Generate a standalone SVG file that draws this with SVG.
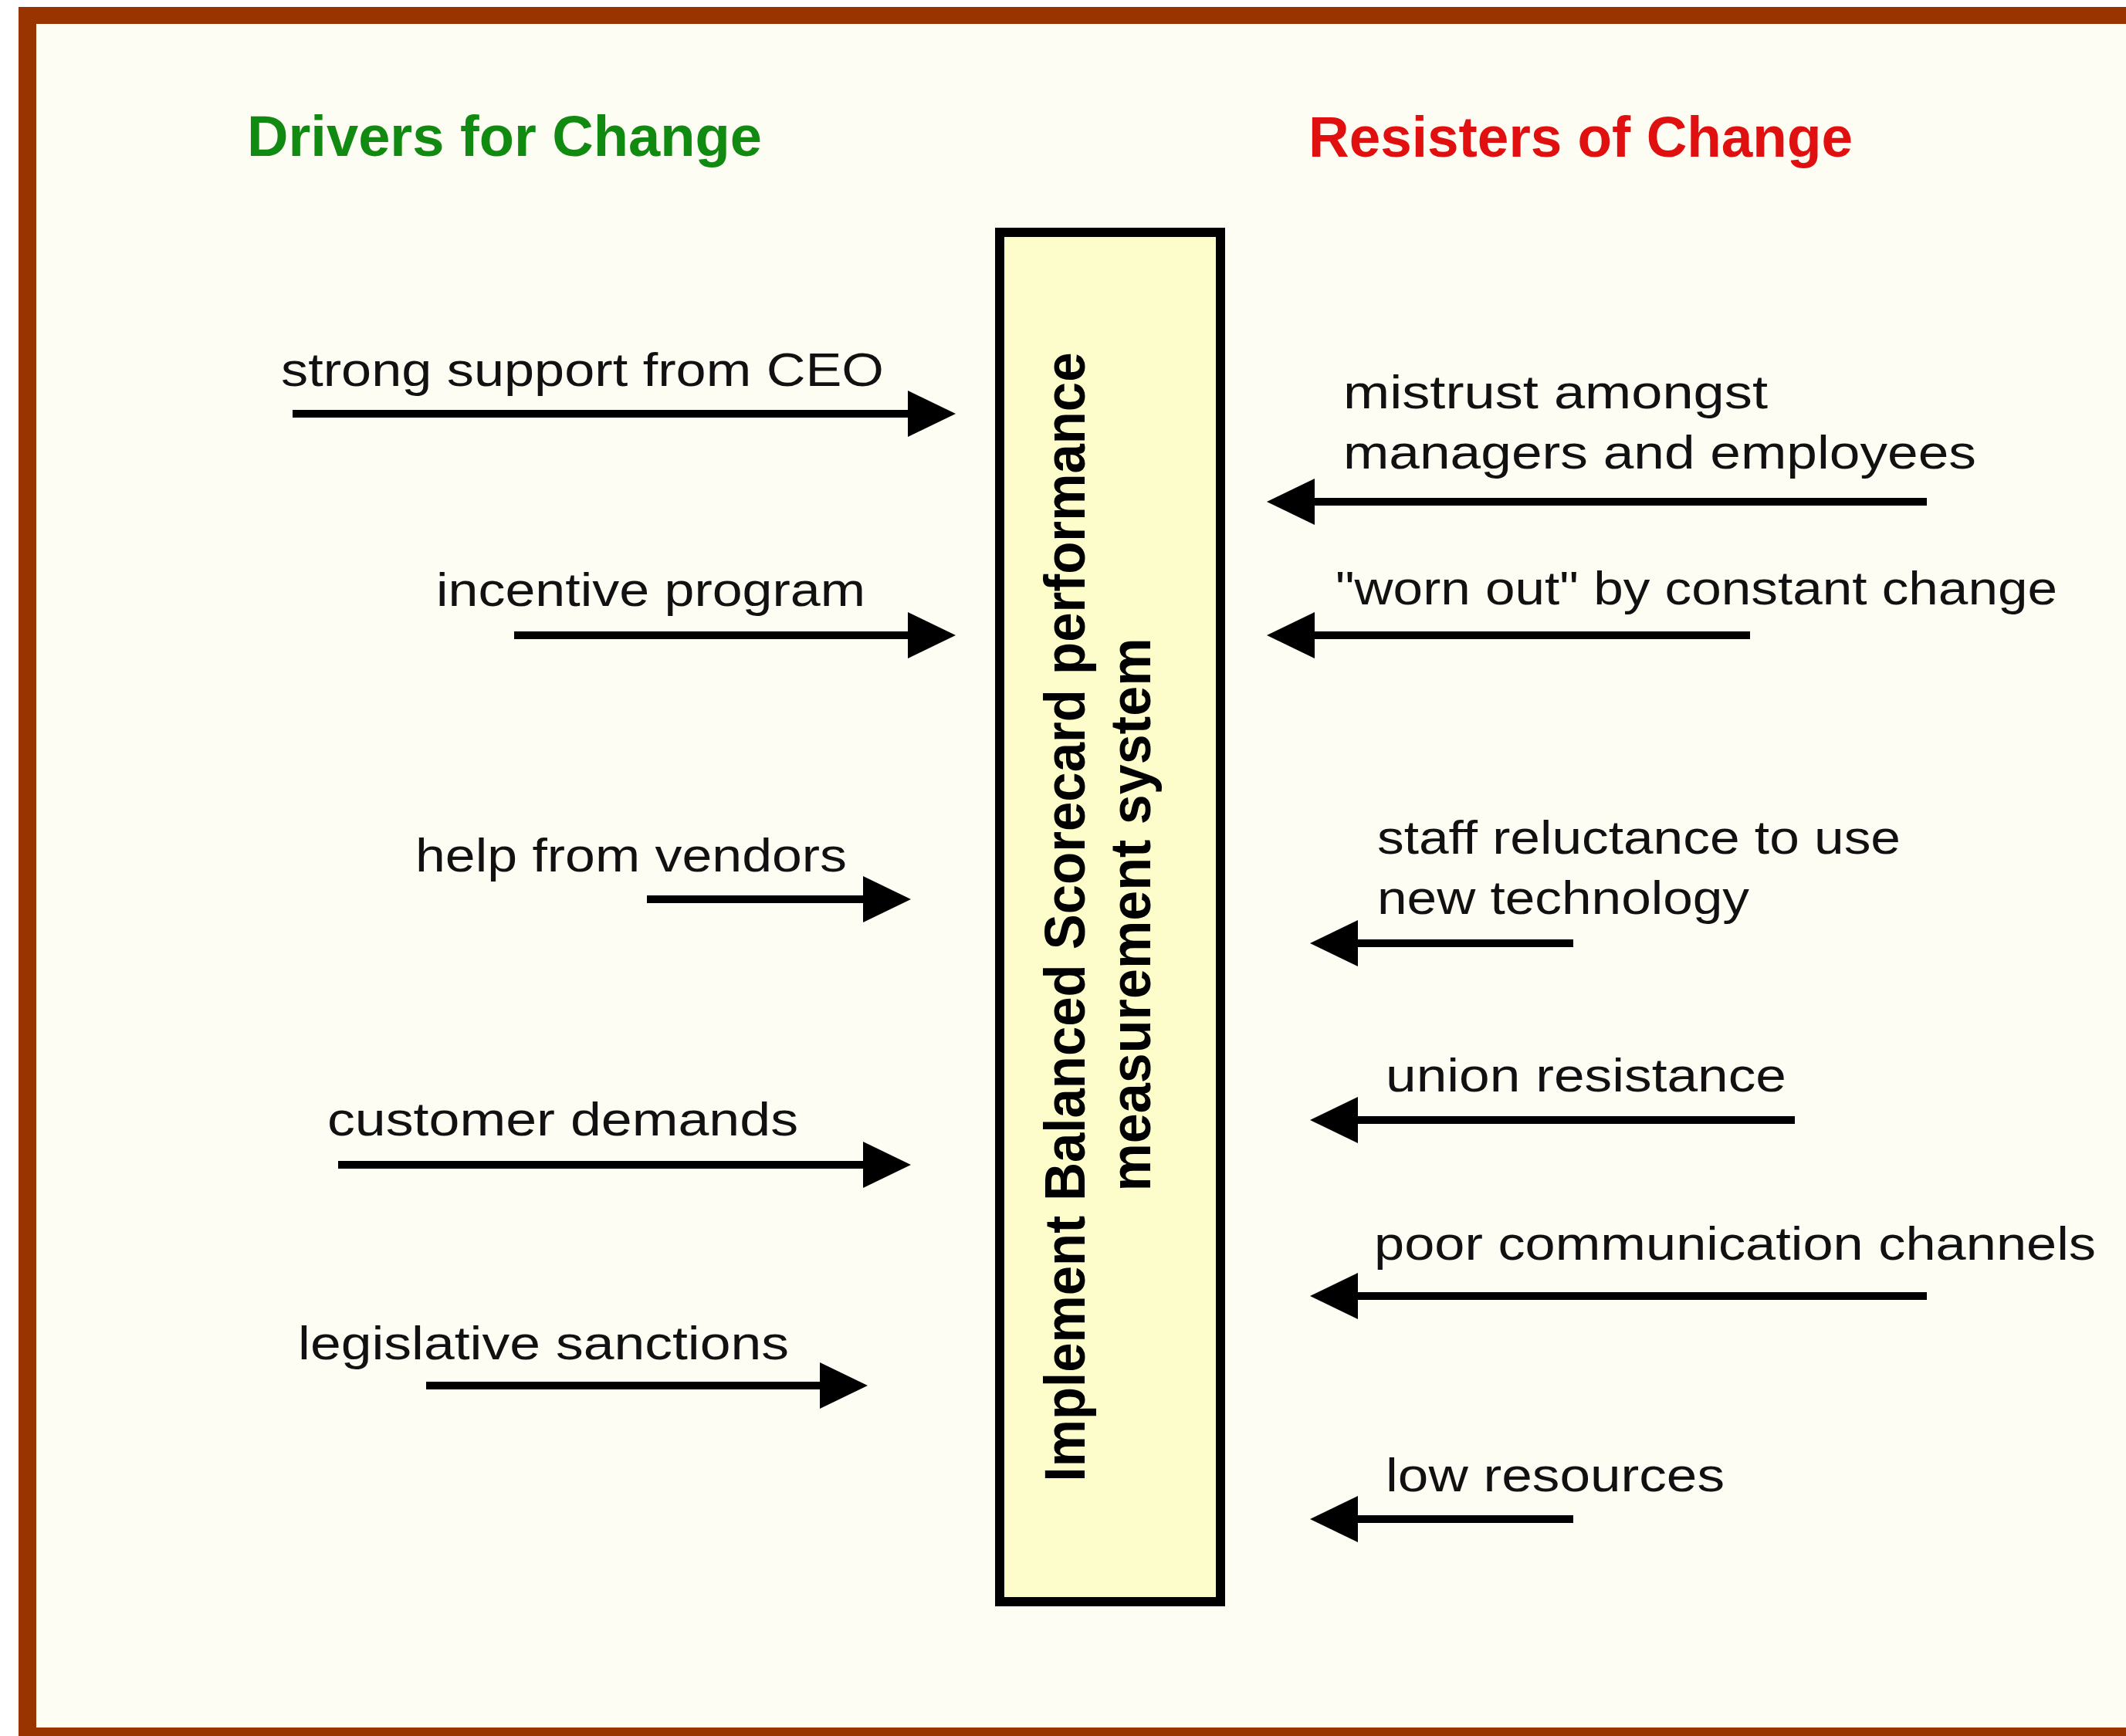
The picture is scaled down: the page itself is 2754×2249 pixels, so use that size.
<svg xmlns="http://www.w3.org/2000/svg" width="2754" height="2249" viewBox="0 0 2754 2249">
  <defs>
    <style>
      .lbl { font-family: "Liberation Sans", Arial, sans-serif; font-size: 62px; fill: #111111; }
      .title { font-family: "Liberation Sans", Arial, sans-serif; font-size: 74px; font-weight: bold; }
      .core { font-family: "Liberation Sans", Arial, sans-serif; font-size: 74px; font-weight: bold; fill: #000000; text-anchor: middle; }
      .arrow { stroke: #000000; stroke-width: 10; fill: none; marker-end: url(#head); }
    </style>
    <marker id="head" markerUnits="userSpaceOnUse" markerWidth="62" markerHeight="60" refX="0" refY="30" orient="auto" viewBox="0 0 62 60">
      <path d="M0,0 L62,30 L0,60 Z" fill="#000000"/>
    </marker>
  </defs>

  <!-- page, frame and canvas -->
  <rect x="0" y="0" width="2754" height="2249" fill="#ffffff"/>
  <rect x="24" y="9" width="2760" height="2260" fill="#993300"/>
  <rect x="47" y="31" width="2740" height="2207" fill="#fdfdf3"/>

  <!-- column headings -->
  <g id="heading-drivers">
    <text class="title" x="320" y="202" fill="#118a11" textLength="667" lengthAdjust="spacingAndGlyphs">Drivers for Change</text>
  </g>
  <g id="heading-resisters">
    <text class="title" x="1695" y="203" fill="#e01010" textLength="705" lengthAdjust="spacingAndGlyphs">Resisters of Change</text>
  </g>

  <!-- central change box -->
  <g id="change-box">
    <rect x="1295" y="301" width="286" height="1774" fill="#fdfdcc" stroke="#000000" stroke-width="12"/>
    <text class="core" transform="translate(1405,1188) rotate(-90)" x="0" y="0" textLength="1463" lengthAdjust="spacingAndGlyphs">Implement Balanced Scorecard performance</text>
    <text class="core" transform="translate(1490,1185) rotate(-90)" x="0" y="0" textLength="717" lengthAdjust="spacingAndGlyphs">measurement system</text>
  </g>

  <!-- driving forces -->
  <g id="driver-ceo">
    <text class="lbl" x="364" y="500" textLength="781" lengthAdjust="spacingAndGlyphs">strong support from CEO</text>
  </g>
  <g id="driver-incentive">
    <text class="lbl" x="565" y="785" textLength="556" lengthAdjust="spacingAndGlyphs">incentive program</text>
  </g>
  <g id="driver-vendors">
    <text class="lbl" x="538" y="1129" textLength="559" lengthAdjust="spacingAndGlyphs">help from vendors</text>
  </g>
  <g id="driver-customers">
    <text class="lbl" x="424" y="1471" textLength="610" lengthAdjust="spacingAndGlyphs">customer demands</text>
  </g>
  <g id="driver-legislation">
    <text class="lbl" x="386" y="1761" textLength="636" lengthAdjust="spacingAndGlyphs">legislative sanctions</text>
  </g>

  <!-- restraining forces -->
  <g id="resister-mistrust">
    <text class="lbl" x="1740" y="529" textLength="550" lengthAdjust="spacingAndGlyphs">mistrust amongst</text>
    <text class="lbl" x="1740" y="607" textLength="820" lengthAdjust="spacingAndGlyphs">managers and employees</text>
  </g>
  <g id="resister-worn-out">
    <text class="lbl" x="1730" y="783" textLength="935" lengthAdjust="spacingAndGlyphs">"worn out" by constant change</text>
  </g>
  <g id="resister-technology">
    <text class="lbl" x="1784" y="1106" textLength="678" lengthAdjust="spacingAndGlyphs">staff reluctance to use</text>
    <text class="lbl" x="1784" y="1184" textLength="482" lengthAdjust="spacingAndGlyphs">new technology</text>
  </g>
  <g id="resister-union">
    <text class="lbl" x="1795" y="1414" textLength="519" lengthAdjust="spacingAndGlyphs">union resistance</text>
  </g>
  <g id="resister-communication">
    <text class="lbl" x="1780" y="1632" textLength="935" lengthAdjust="spacingAndGlyphs">poor communication channels</text>
  </g>
  <g id="resister-resources">
    <text class="lbl" x="1795" y="1932" textLength="439" lengthAdjust="spacingAndGlyphs">low resources</text>
  </g>

  <!-- force arrows -->
  <g id="connectors">
    <line class="arrow" x1="379" y1="536" x2="1176" y2="536"/>
    <line class="arrow" x1="666" y1="823" x2="1176" y2="823"/>
    <line class="arrow" x1="838" y1="1165" x2="1118" y2="1165"/>
    <line class="arrow" x1="438" y1="1509" x2="1118" y2="1509"/>
    <line class="arrow" x1="552" y1="1795" x2="1062" y2="1795"/>

    <line class="arrow" x1="2496" y1="650" x2="1703" y2="650"/>
    <line class="arrow" x1="2267" y1="823" x2="1703" y2="823"/>
    <line class="arrow" x1="2038" y1="1222" x2="1759" y2="1222"/>
    <line class="arrow" x1="2325" y1="1451" x2="1759" y2="1451"/>
    <line class="arrow" x1="2496" y1="1679" x2="1759" y2="1679"/>
    <line class="arrow" x1="2038" y1="1968" x2="1759" y2="1968"/>
  </g>
</svg>
